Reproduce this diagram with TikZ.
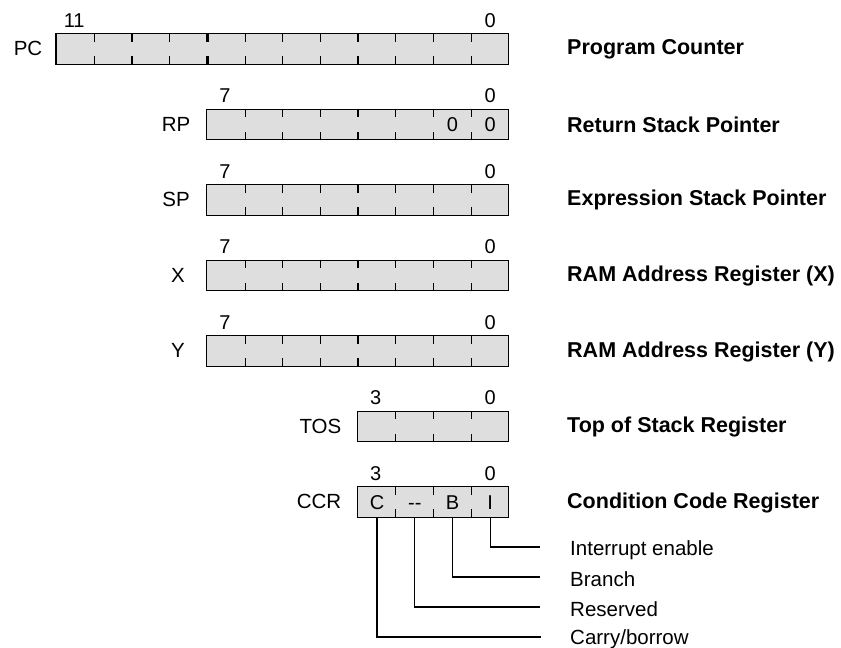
\documentclass[tikz,border=0pt]{standalone}
\usepackage{fontspec}
\setmainfont{Liberation Sans}
\usetikzlibrary{calc}
\definecolor{regfill}{RGB}{222,222,222}
\tikzset{
  regbox/.style={draw, fill=regfill, line width=1.3pt, minimum height=30.5pt, inner sep=0pt, anchor=north east},
  regname/.style={font=\fontsize{20.5}{22}\selectfont, inner sep=0pt},
  bitnum/.style={font=\fontsize{20}{22}\selectfont, inner sep=0pt, anchor=base},
  desc/.style={font=\fontsize{21.5}{24}\selectfont\bfseries, anchor=west, inner sep=0pt},
  cellt/.style={font=\fontsize{20}{22}\selectfont, inner sep=0pt, text height=14.3pt, text depth=0pt},
  lead/.style={line width=1.3pt},
  flag/.style={font=\fontsize{20.5}{22}\selectfont, anchor=west, inner sep=0pt},
}
\newcommand{\regrow}[3]{%
  \node[regbox, minimum width=#3*37.7pt] (#1) at (509,#2) {};
  \pgfmathtruncatemacro{\lastb}{#3-1}
  \foreach \i in {1,...,\lastb}{
    \pgfmathtruncatemacro{\nib}{mod(\i,4)==0 ? 1 : 0}
    \ifnum\nib=1 \def\tw{2.2pt}\else\def\tw{1.1pt}\fi
    \draw[line width=\tw] ($(#1.north east)+(-\i*37.7pt,0)$) -- ++(0,8.5);
    \draw[line width=\tw] ($(#1.south east)+(-\i*37.7pt,0)$) -- ++(0,-8.5);
  }
  \node[bitnum] (#1hi) at ($(#1.north west)+(18.85pt,6pt)$) {\the\numexpr#3-1\relax};
  \node[bitnum] (#1lo) at ($(#1.north east)+(-18.85pt,6pt)$) {0};
}
\begin{document}
\begin{tikzpicture}[x=1pt,y=-1pt]
\useasboundingbox (0,0) rectangle (841,648);
% registers
\regrow{pc}{33}{12}
\regrow{rp}{108.5}{8}
\regrow{sp}{184}{8}
\regrow{xr}{259.5}{8}
\regrow{yr}{335}{8}
\regrow{tos}{410.5}{4}
\regrow{ccr}{486}{4}
% left names
\node[regname] (pcn) at (28,48.5) {PC};
\node[regname] (rpn) at (176,124) {RP};
\node[regname] (spn) at (176,199.5) {SP};
\node[regname] (xn) at (178,275) {X};
\node[regname] (yn) at (178,350.5) {Y};
\node[regname, anchor=east] (tosn) at (341.5,426) {TOS};
\node[regname, anchor=east] (ccrn) at (341.5,501.5) {CCR};
% descriptions
\node[desc] (d1) at (567,49) {Program Counter};
\node[desc] (d2) at (567,124.5) {Return Stack Pointer};
\node[desc] (d3) at (567,200) {Expression Stack Pointer};
\node[desc] (d4) at (567,275.5) {RAM Address Register (X)};
\node[desc] (d5) at (567,351.5) {RAM Address Register (Y)};
\node[desc] (d6) at (567,427) {Top of Stack Register};
\node[desc] (d7) at (567,503) {Condition Code Register};
% RP fixed zeros
\node[cellt] (rp1) at ($(rp.east)+(-56.55pt,0)$) {0};
\node[cellt] (rp0) at ($(rp.east)+(-18.85pt,0)$) {0};
% CCR cells
\node[cellt] (cc) at ($(ccr.east)+(-131.95pt,0)$) {C};
\node[cellt] (cr) at ($(ccr.east)+(-94.25pt,0)$) {-{}-};
\node[cellt] (cb) at ($(ccr.east)+(-56.55pt,0)$) {B};
\node[cellt] (ci) at ($(ccr.east)+(-18.85pt,0)$) {I};
% lead ends
\coordinate (ei) at (540,547);
\coordinate (eb) at (540,577);
\coordinate (er) at (540,607);
\coordinate (ec) at (541,637);
\draw[lead] (ci |- ccr.south) -- (ci |- ei) -- (ei);
\draw[lead] (cb |- ccr.south) -- (cb |- eb) -- (eb);
\draw[lead] (cr |- ccr.south) -- (cr |- er) -- (er);
\draw[lead] (cc |- ccr.south) -- (cc |- ec) -- (ec);
\node[flag] (fi) at (570,550) {Interrupt enable};
\node[flag] (fb) at (570,579) {Branch};
\node[flag] (fr) at (570,609) {Reserved};
\node[flag] (fc) at (570,639) {Carry/borrow};
\end{tikzpicture}
\end{document}
